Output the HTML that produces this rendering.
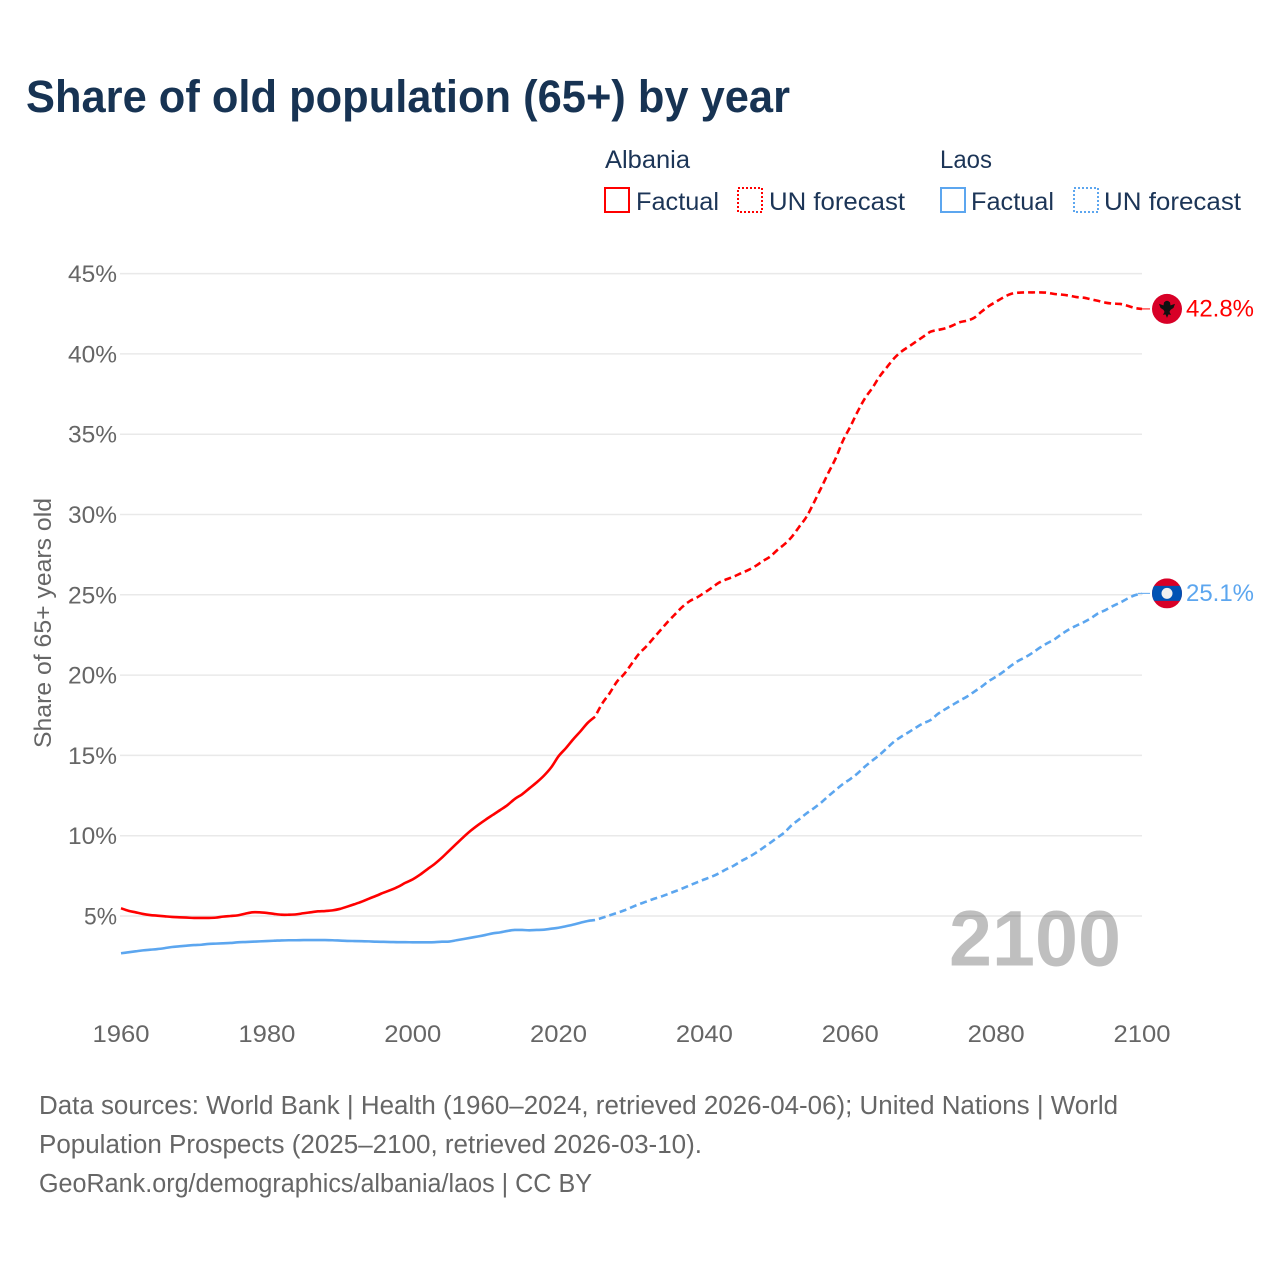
<!DOCTYPE html>
<html lang="en">
<head>
<meta charset="utf-8">
<title>Share of old population (65+) by year</title>
<style>
html,body{margin:0;padding:0;background:#fff}
svg{display:block}
text{font-family:"Liberation Sans",sans-serif}
</style>
</head>
<body>
<svg id="chart" xmlns="http://www.w3.org/2000/svg" width="1280" height="1280" viewBox="0 0 1280 1280">
  <rect width="1280" height="1280" fill="#fff"/>
  <text x="26" y="112" font-size="45" font-weight="700" fill="#173353" textLength="764" lengthAdjust="spacingAndGlyphs">Share of old population (65+) by year</text>

  <g font-size="25" fill="#1c3557">
    <text x="605" y="168" textLength="85" lengthAdjust="spacingAndGlyphs">Albania</text>
    <rect x="605" y="188" width="24" height="24" fill="none" stroke="#ff0000" stroke-width="2"/>
    <text x="636" y="210" textLength="83" lengthAdjust="spacingAndGlyphs">Factual</text>
    <rect x="738" y="188" width="24" height="24" fill="none" stroke="#ff0000" stroke-width="2" stroke-dasharray="2 2"/>
    <text x="769" y="210" textLength="136" lengthAdjust="spacingAndGlyphs">UN forecast</text>
    <text x="940" y="168" textLength="52" lengthAdjust="spacingAndGlyphs">Laos</text>
    <rect x="941" y="188" width="24" height="24" fill="none" stroke="#5ca6ef" stroke-width="2"/>
    <text x="971" y="210" textLength="83" lengthAdjust="spacingAndGlyphs">Factual</text>
    <rect x="1074" y="188" width="24" height="24" fill="none" stroke="#5ca6ef" stroke-width="2" stroke-dasharray="2 2"/>
    <text x="1104" y="210" textLength="137" lengthAdjust="spacingAndGlyphs">UN forecast</text>
  </g>

  <g id="grid"></g>
  <g id="y-axis"></g>
  <g id="x-axis"></g>
  <text transform="translate(51,748) rotate(-90)" font-size="24" fill="#666" textLength="250" lengthAdjust="spacingAndGlyphs">Share of 65+ years old</text>

  <text x="949" y="965.5" font-size="79" font-weight="700" fill="#000" fill-opacity="0.25" textLength="172" lengthAdjust="spacingAndGlyphs">2100</text>

  <g id="series"></g>

  <defs>
    <clipPath id="flag-clip"><circle cx="0" cy="0" r="15"/></clipPath>
  </defs>
  <g id="flag-albania">
    <circle r="15" fill="#d80027"/>
    <path fill="#111" d="M-8,-5 L-3.5,-3.5 L-3,-6.5 L-1,-8 L1,-8 L3,-6.5 L3.5,-3.5 L8,-5 L6.5,-1 L3.5,1 L2.5,3 L4,6 L1.5,5.5 L0,9 L-1.5,5.5 L-4,6 L-2.5,3 L-3.5,1 L-6.5,-1 Z"/>
  </g>
  <g id="flag-laos">
    <g clip-path="url(#flag-clip)">
      <rect x="-15" y="-15" width="30" height="30" fill="#d80027"/>
      <rect x="-15" y="-7.5" width="30" height="15" fill="#0052b4"/>
    </g>
    <circle r="5.5" fill="#f0f0f0"/>
  </g>
  <text id="value-albania" x="1186" font-size="24.5" fill="#ff0000" textLength="68" lengthAdjust="spacingAndGlyphs"></text>
  <text id="value-laos" x="1186" font-size="24.5" fill="#5ca6ef" textLength="68" lengthAdjust="spacingAndGlyphs"></text>

  <g font-size="25.5" fill="#666">
    <text x="39" y="1114" textLength="1079" lengthAdjust="spacingAndGlyphs">Data sources: World Bank | Health (1960–2024, retrieved 2026-04-06); United Nations | World</text>
    <text x="39" y="1153" textLength="663" lengthAdjust="spacingAndGlyphs">Population Prospects (2025–2100, retrieved 2026-03-10).</text>
    <text x="39" y="1192" textLength="553" lengthAdjust="spacingAndGlyphs">GeoRank.org/demographics/albania/laos | CC BY</text>
  </g>
</svg>
<script>
const xTickYears = [1960, 1980, 2000, 2020, 2040, 2060, 2080, 2100];
const yTickValues = [5, 10, 15, 20, 25, 30, 35, 40, 45];
const factualStartYear = 1960;
const forecastStartYear = 2025;

const albaniaFactual = [5.48,5.33,5.23,5.13,5.06,5.02,4.98,4.94,4.92,4.90,
  4.88,4.88,4.88,4.90,4.96,5.00,5.04,5.14,5.23,5.23,
  5.19,5.13,5.08,5.08,5.10,5.17,5.23,5.29,5.31,5.35,
  5.44,5.58,5.73,5.89,6.08,6.26,6.45,6.62,6.82,7.07,
  7.28,7.57,7.91,8.24,8.63,9.07,9.50,9.93,10.33,10.68,
  11.00,11.30,11.60,11.91,12.29,12.58,12.95,13.32,13.74,14.26,
  14.95,15.45,16.00,16.50,17.03,17.41];
const albaniaForecast = [17.41,18.24,18.87,19.59,20.07,20.69,21.31,21.77,22.29,22.81,
  23.33,23.80,24.26,24.61,24.84,25.13,25.44,25.76,25.96,26.13,
  26.34,26.54,26.79,27.10,27.37,27.79,28.16,28.62,29.24,29.86,
  30.73,31.65,32.60,33.50,34.60,35.47,36.40,37.23,37.86,38.58,
  39.16,39.72,40.14,40.45,40.76,41.07,41.38,41.49,41.59,41.76,
  41.97,42.07,42.25,42.63,42.98,43.25,43.52,43.73,43.81,43.83,
  43.83,43.83,43.81,43.73,43.69,43.63,43.54,43.50,43.40,43.30,
  43.19,43.13,43.11,43.00,42.86,42.80];
const laosFactual = [2.68,2.74,2.80,2.86,2.90,2.94,3.00,3.07,3.11,3.15,
  3.19,3.21,3.26,3.28,3.30,3.32,3.36,3.38,3.40,3.42,
  3.44,3.46,3.48,3.49,3.49,3.50,3.50,3.50,3.50,3.49,
  3.47,3.45,3.44,3.43,3.42,3.40,3.39,3.38,3.37,3.37,
  3.36,3.36,3.36,3.37,3.40,3.41,3.49,3.57,3.65,3.73,
  3.82,3.92,3.98,4.07,4.13,4.13,4.11,4.13,4.15,4.21,
  4.27,4.36,4.46,4.58,4.69,4.75];
const laosForecast = [4.75,4.89,5.04,5.19,5.35,5.54,5.73,5.89,6.06,6.20,
  6.37,6.54,6.72,6.91,7.10,7.28,7.45,7.66,7.91,8.13,
  8.41,8.65,8.92,9.23,9.55,9.88,10.21,10.67,11.02,11.39,
  11.71,12.06,12.47,12.85,13.22,13.53,13.88,14.30,14.67,15.03,
  15.44,15.85,16.17,16.44,16.73,17.00,17.20,17.58,17.87,18.14,
  18.41,18.66,18.97,19.28,19.63,19.90,20.21,20.57,20.88,21.11,
  21.39,21.71,21.98,22.23,22.56,22.85,23.08,23.29,23.54,23.85,
  24.05,24.30,24.51,24.76,24.97,25.09];
const albaniaEndLabel = "42.8%";
const laosEndLabel = "25.1%";

const NS = "http://www.w3.org/2000/svg";
const xScale = function (year) { return 121 + (year - 1960) * (1142 - 121) / 140; };
const yScale = function (value) { return 996.3 - 16.06 * value; };

function makeEl(tag, parent, attrs) {
  const el = document.createElementNS(NS, tag);
  Object.keys(attrs).forEach(function (k) { el.setAttribute(k, attrs[k]); });
  parent.appendChild(el);
  return el;
}

const grid = document.getElementById("grid");
const yAxis = document.getElementById("y-axis");
const xAxis = document.getElementById("x-axis");
const series = document.getElementById("series");

yTickValues.forEach(function (v) {
  const line = makeEl("line", grid, { x1: 120, x2: 1142, y1: yScale(v), y2: yScale(v), stroke: "#e9e9e9", "stroke-width": 1.5 });
  
  
  const label = makeEl("text", yAxis, { x: 117, y: yScale(v) + 8.5, "text-anchor": "end", "font-size": 24, fill: "#666" });
  
  
  label.textContent = v + "%";
  label.setAttribute("textLength", v < 10 ? 33 : 49);
  label.setAttribute("lengthAdjust", "spacingAndGlyphs");
});

xTickYears.forEach(function (yr) {
  const label = makeEl("text", xAxis, { x: xScale(yr), y: 1042, "text-anchor": "middle", "font-size": 24, fill: "#666" });
  
  
  label.textContent = yr;
  label.setAttribute("textLength", 57);
  label.setAttribute("lengthAdjust", "spacingAndGlyphs");
});

/* Smooth path through the data points (Catmull-Rom to cubic Bezier). */
function pathFor(values, startYear) {
  const pts = values.map(function (v, i) { return [xScale(startYear + i), yScale(v)]; });
  let d = "M" + pts[0][0].toFixed(2) + "," + pts[0][1].toFixed(2);
  for (let i = 0; i < pts.length - 1; i++) {
    const p0 = pts[Math.max(i - 1, 0)];
    const p1 = pts[i];
    const p2 = pts[i + 1];
    const p3 = pts[Math.min(i + 2, pts.length - 1)];
    const c1x = p1[0] + (p2[0] - p0[0]) / 6;
    const c1y = p1[1] + (p2[1] - p0[1]) / 6;
    const c2x = p2[0] - (p3[0] - p1[0]) / 6;
    const c2y = p2[1] - (p3[1] - p1[1]) / 6;
    d += "C" + c1x.toFixed(2) + "," + c1y.toFixed(2) + " " + c2x.toFixed(2) + "," + c2y.toFixed(2) + " " + p2[0].toFixed(2) + "," + p2[1].toFixed(2);
  }
  return d;
}

function drawLine(values, startYear, color, dashed, name) {
  const attrs = { d: pathFor(values, startYear), fill: "none", stroke: color, "stroke-width": 2.6, "stroke-linejoin": "round" };
  if (dashed) {
    attrs["stroke-dasharray"] = "7 4";
    attrs["stroke-dashoffset"] = "7";
  }
  const line = makeEl("path", series, attrs);
  
  
}

function drawEnd(values, color, flagId, valueId, labelText, name) {
  const endY = yScale(values[values.length - 1]);
  const conn = makeEl("line", series, { x1: 1138, x2: 1150, y1: endY, y2: endY, stroke: color, "stroke-width": 1 });
  
  
  document.getElementById(flagId).setAttribute("transform", "translate(1167," + endY + ")");
  const label = document.getElementById(valueId);
  label.setAttribute("y", endY + 7.5);
  label.textContent = labelText;
}

drawLine(laosFactual, factualStartYear, "#5ca6ef", false, "laos-factual-line");
drawLine(laosForecast, forecastStartYear, "#5ca6ef", true, "laos-forecast-line");
drawLine(albaniaFactual, factualStartYear, "#ff0000", false, "albania-factual-line");
drawLine(albaniaForecast, forecastStartYear, "#ff0000", true, "albania-forecast-line");
drawEnd(albaniaForecast, "#ff0000", "flag-albania", "value-albania", albaniaEndLabel, "albania-end-connector");
drawEnd(laosForecast, "#5ca6ef", "flag-laos", "value-laos", laosEndLabel, "laos-end-connector");
</script>
</body>
</html>
